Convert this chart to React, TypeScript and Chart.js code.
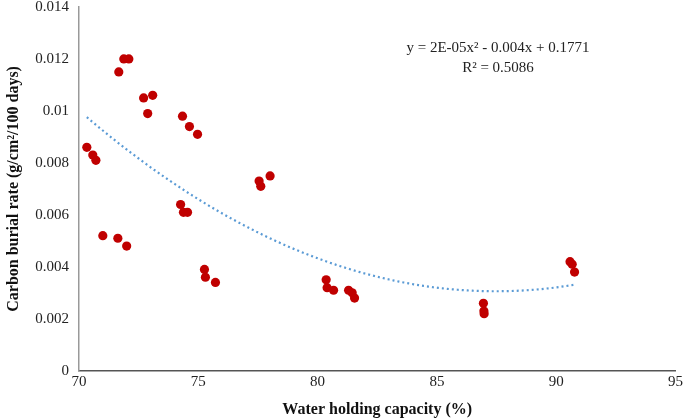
import React, { useEffect, useRef } from "react";
import { Chart, registerables } from "chart.js";

Chart.register(...registerables);

const waterHolding = [
  70.33, 70.58, 70.71, 71.67, 71.88, 72.09, 72.71, 72.88, 73.09, 74.34, 74.63, 74.97,
  71.0, 71.63, 72.0, 74.26, 74.38, 74.55, 75.26, 75.3, 75.72,
  77.55, 77.62, 78.01, 80.36, 80.4, 80.67, 81.3, 81.45, 81.55,
  86.95, 86.97, 86.98, 90.58, 90.67, 90.77,
];
const burialRate = [
  0.0086, 0.0083, 0.0081, 0.0115, 0.012, 0.012, 0.0105, 0.0099, 0.0106, 0.0098, 0.0094, 0.0091,
  0.0052, 0.0051, 0.0048, 0.0064, 0.0061, 0.0061, 0.0039, 0.0036, 0.0034,
  0.0073, 0.0071, 0.0075, 0.0035, 0.0032, 0.0031, 0.0031, 0.003, 0.0028,
  0.0026, 0.0023, 0.0022, 0.0042, 0.0041, 0.0038,
];
const equationLines = ["y = 2E-05x\u00b2 - 0.004x + 0.1771", "R\u00b2 = 0.5086"];
const xTitle = "Water holding capacity (%)";
const yTitle = "Carbon burial rate (g/cm\u00b2/100 days)";

// least-squares quadratic fit of the data (as a spreadsheet trendline does)
function quadFit(xs: number[], ys: number[]) {
  const n = xs.length;
  const mx = xs.reduce((a, b) => a + b, 0) / n;
  const s = [0, 0, 0, 0, 0];
  const t = [0, 0, 0];
  for (let i = 0; i < n; i++) {
    const u = xs[i] - mx;
    for (let k = 0; k <= 4; k++) s[k] += Math.pow(u, k);
    for (let k = 0; k <= 2; k++) t[k] += ys[i] * Math.pow(u, k);
  }
  const M = [
    [s[0], s[1], s[2], t[0]],
    [s[1], s[2], s[3], t[1]],
    [s[2], s[3], s[4], t[2]],
  ];
  for (let i = 0; i < 3; i++) {
    for (let j = i + 1; j < 3; j++) {
      const f = M[j][i] / M[i][i];
      for (let k = i; k < 4; k++) M[j][k] -= f * M[i][k];
    }
  }
  const c = [0, 0, 0];
  for (let i = 2; i >= 0; i--) {
    let v = M[i][3];
    for (let k = i + 1; k < 3; k++) v -= M[i][k] * c[k];
    c[i] = v / M[i][i];
  }
  return (x: number) => c[0] + c[1] * (x - mx) + c[2] * (x - mx) * (x - mx);
}

const SHIFT = 12;

export default function App() {
  const ref = useRef<HTMLCanvasElement>(null);
  useEffect(() => {
    document.body.style.margin = "0";
    const fit = quadFit(waterHolding, burialRate);
    const xMin = Math.min(...waterHolding);
    const xMax = Math.max(...waterHolding);
    const trend: { x: number; y: number }[] = [];
    const steps = 100;
    for (let i = 0; i <= steps; i++) {
      const x = xMin + ((xMax - xMin) * i) / steps;
      trend.push({ x, y: fit(x) });
    }
    const font = "'Liberation Serif', 'Times New Roman', serif";
    const eqPlugin = {
      id: "eq",
      afterDraw(chart: any) {
        const ctx = chart.ctx;
        ctx.save();
        ctx.fillStyle = "#222";
        ctx.font = `15px ${font}`;
        ctx.textAlign = "center";
        ctx.textBaseline = "middle";
        ctx.fillText(equationLines[0], 498, 48 + SHIFT);
        ctx.fillText(equationLines[1], 498, 68 + SHIFT);
        ctx.restore();
      },
    };
    const chart = new Chart(ref.current!, {
      type: "scatter",
      data: {
        datasets: [
          {
            label: "trend",
            data: trend,
            showLine: true,
            pointRadius: 0,
            borderColor: "#5B9BD5",
            borderWidth: 2.2,
            borderDash: [2, 3],
            fill: false,
            order: 2,
          },
          {
            label: "data",
            data: waterHolding.map((x, i) => ({ x, y: burialRate[i] })),
            pointRadius: 4.6,
            pointBackgroundColor: "#C00000",
            pointBorderColor: "#C00000",
            pointBorderWidth: 0,
            order: 1,
          },
        ],
      },
      options: {
        responsive: false,
        animation: false,
        layout: { padding: { top: 0, right: 0, left: 4, bottom: 0 } },
        plugins: { legend: { display: false }, tooltip: { enabled: false } },
        scales: {
          x: {
            type: "linear",
            min: 70,
            max: 95,
            ticks: { stepSize: 5, color: "#222", font: { family: font, size: 15 }, padding: 2 },
            grid: { display: false, drawTicks: false },
            border: { color: "#555", width: 1.5 },
            title: {
              display: true,
              text: xTitle,
              color: "#111",
              font: { family: font, size: 16, weight: "bold" },
              padding: { top: 7, bottom: 0 },
            },
          },
          y: {
            min: 0,
            max: 0.014,
            ticks: {
              stepSize: 0.002,
              color: "#222",
              font: { family: font, size: 15 },
              padding: 10,
              callback: (v: any) => String(Number(v.toFixed(3))),
            },
            grid: { display: false, drawTicks: false },
            border: { color: "#999", width: 1.5 },
            title: {
              display: true,
              text: yTitle,
              color: "#111",
              font: { family: font, size: 16, weight: "bold" },
              padding: { top: 0, bottom: 2 },
            },
          },
        },
      },
      plugins: [eqPlugin],
    });
    return () => chart.destroy();
  }, []);
  return (
    <div style={{ width: 685, height: 419, overflow: "hidden" }}>
      <canvas
        ref={ref}
        width={685}
        height={419 + SHIFT}
        style={{ display: "block", marginTop: -SHIFT }}
      />
    </div>
  );
}
